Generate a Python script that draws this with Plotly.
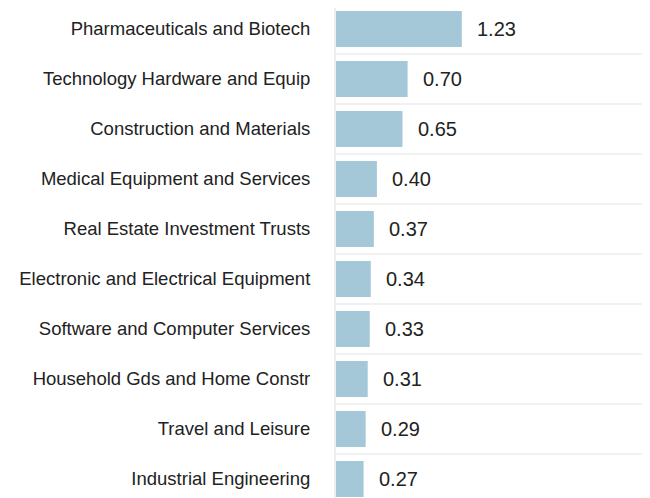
import plotly.graph_objects as go

categories = [
    "Pharmaceuticals and Biotech",
    "Technology Hardware and Equip",
    "Construction and Materials",
    "Medical Equipment and Services",
    "Real Estate Investment Trusts",
    "Electronic and Electrical Equipment",
    "Software and Computer Services",
    "Household Gds and Home Constr",
    "Travel and Leisure",
    "Industrial Engineering",
]
values = [1.23, 0.70, 0.65, 0.40, 0.37, 0.34, 0.33, 0.31, 0.29, 0.27]
value_labels = [f"{v:.2f}" for v in values]

fig = go.Figure()
fig.add_trace(go.Bar(
    y=categories, x=values, orientation="h",
    marker=dict(color="#a5c8d8", line=dict(width=0)),
    width=0.72,
    hoverinfo="skip",
))

for c, v, t in zip(categories, values, value_labels):
    fig.add_annotation(x=v, y=c, text=t, showarrow=False, xanchor="left",
                       xshift=13, font=dict(family="Liberation Sans, Arial", size=20, color="#222"))

fig.update_layout(
    width=650, height=498,
    margin=dict(l=328, r=11, t=0, b=0),
    paper_bgcolor="white", plot_bgcolor="white",
    showlegend=False,
    font=dict(family="Liberation Sans, Arial", color="#222"),
    xaxis=dict(range=[0, 3.04], showticklabels=False, showgrid=False, zeroline=False,
               showline=False, fixedrange=True),
    yaxis=dict(categoryorder="array", categoryarray=categories,
               range=[9.54, -0.42], tickson="boundaries", showgrid=True,
               gridcolor="#f1f1f1", gridwidth=2, ticks="", ticklabelstandoff=20,
               tickfont=dict(size=18.5, color="#222"),
               showline=True, linecolor="#eeeeee", linewidth=2),
)

fig.write_html("out.html")
